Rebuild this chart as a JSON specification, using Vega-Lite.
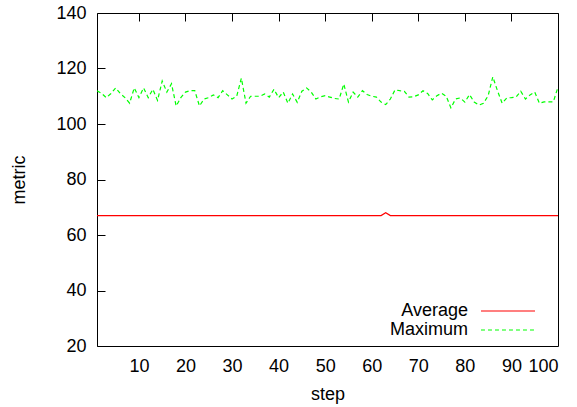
{
  "$schema": "https://vega.github.io/schema/vega-lite/v6.json",
  "width": 461,
  "height": 333,
  "autosize": {"type": "none"},
  "padding": {"left": 97, "top": 13, "right": 19, "bottom": 61},
  "background": "white",
  "config": {
    "view": {"stroke": "#000", "strokeWidth": 1},
    "font": "Liberation Sans",
    "axis": {
      "labelFont": "Liberation Sans",
      "titleFont": "Liberation Sans",
      "labelFontSize": 18,
      "titleFontSize": 18,
      "titleFontWeight": "normal",
      "labelColor": "#000",
      "titleColor": "#000",
      "ticks": false,
      "domain": false,
      "grid": true,
      "gridColor": "#000000",
      "gridOpacity": 1,
      "gridWidth": 1,
      "gridDash": [8, 2000]
    },
    "legend": {
      "labelFont": "Liberation Sans",
      "labelFontSize": 18,
      "labelColor": "#000"
    }
  },
  "datasets": {
    "series": [
      {"step": 1, "series": "Average", "value": 67}, {"step": 10, "series": "Average", "value": 67}, {"step": 20, "series": "Average", "value": 67}, {"step": 30, "series": "Average", "value": 67}, {"step": 40, "series": "Average", "value": 67}, {"step": 50, "series": "Average", "value": 67}, {"step": 60, "series": "Average", "value": 67}, {"step": 62, "series": "Average", "value": 67}, {"step": 63, "series": "Average", "value": 68}, {"step": 64, "series": "Average", "value": 67}, {"step": 70, "series": "Average", "value": 67}, {"step": 80, "series": "Average", "value": 67}, {"step": 90, "series": "Average", "value": 67}, {"step": 100, "series": "Average", "value": 67},
      {"step": 1, "series": "Maximum", "value": 112}, {"step": 2, "series": "Maximum", "value": 111}, {"step": 3, "series": "Maximum", "value": 109.5}, {"step": 4, "series": "Maximum", "value": 111}, {"step": 5, "series": "Maximum", "value": 113}, {"step": 6, "series": "Maximum", "value": 111}, {"step": 7, "series": "Maximum", "value": 109.5}, {"step": 8, "series": "Maximum", "value": 107.5}, {"step": 9, "series": "Maximum", "value": 113}, {"step": 10, "series": "Maximum", "value": 109.5},
      {"step": 11, "series": "Maximum", "value": 113}, {"step": 12, "series": "Maximum", "value": 109.5}, {"step": 13, "series": "Maximum", "value": 112.5}, {"step": 14, "series": "Maximum", "value": 108.5}, {"step": 15, "series": "Maximum", "value": 115.5}, {"step": 16, "series": "Maximum", "value": 111.5}, {"step": 17, "series": "Maximum", "value": 114.5}, {"step": 18, "series": "Maximum", "value": 106.5}, {"step": 19, "series": "Maximum", "value": 109.5}, {"step": 20, "series": "Maximum", "value": 111.5},
      {"step": 21, "series": "Maximum", "value": 112}, {"step": 22, "series": "Maximum", "value": 112}, {"step": 23, "series": "Maximum", "value": 106.5}, {"step": 24, "series": "Maximum", "value": 109}, {"step": 25, "series": "Maximum", "value": 109.5}, {"step": 26, "series": "Maximum", "value": 110.5}, {"step": 27, "series": "Maximum", "value": 109.5}, {"step": 28, "series": "Maximum", "value": 112}, {"step": 29, "series": "Maximum", "value": 110.5}, {"step": 30, "series": "Maximum", "value": 109},
      {"step": 31, "series": "Maximum", "value": 110}, {"step": 32, "series": "Maximum", "value": 116.5}, {"step": 33, "series": "Maximum", "value": 107.5}, {"step": 34, "series": "Maximum", "value": 110}, {"step": 35, "series": "Maximum", "value": 110}, {"step": 36, "series": "Maximum", "value": 110}, {"step": 37, "series": "Maximum", "value": 110.8}, {"step": 38, "series": "Maximum", "value": 109.7}, {"step": 39, "series": "Maximum", "value": 112.5}, {"step": 40, "series": "Maximum", "value": 109.5},
      {"step": 41, "series": "Maximum", "value": 111.5}, {"step": 42, "series": "Maximum", "value": 107.5}, {"step": 43, "series": "Maximum", "value": 110.8}, {"step": 44, "series": "Maximum", "value": 107.8}, {"step": 45, "series": "Maximum", "value": 111.8}, {"step": 46, "series": "Maximum", "value": 113}, {"step": 47, "series": "Maximum", "value": 111.5}, {"step": 48, "series": "Maximum", "value": 109}, {"step": 49, "series": "Maximum", "value": 109.8}, {"step": 50, "series": "Maximum", "value": 110.2},
      {"step": 51, "series": "Maximum", "value": 109.7}, {"step": 52, "series": "Maximum", "value": 109.2}, {"step": 53, "series": "Maximum", "value": 109}, {"step": 54, "series": "Maximum", "value": 114.4}, {"step": 55, "series": "Maximum", "value": 107.9}, {"step": 56, "series": "Maximum", "value": 111.5}, {"step": 57, "series": "Maximum", "value": 109.7}, {"step": 58, "series": "Maximum", "value": 112}, {"step": 59, "series": "Maximum", "value": 110.6}, {"step": 60, "series": "Maximum", "value": 110},
      {"step": 61, "series": "Maximum", "value": 109.7}, {"step": 62, "series": "Maximum", "value": 107.9}, {"step": 63, "series": "Maximum", "value": 107}, {"step": 64, "series": "Maximum", "value": 109}, {"step": 65, "series": "Maximum", "value": 112.3}, {"step": 66, "series": "Maximum", "value": 112}, {"step": 67, "series": "Maximum", "value": 111.8}, {"step": 68, "series": "Maximum", "value": 109.7}, {"step": 69, "series": "Maximum", "value": 109.8}, {"step": 70, "series": "Maximum", "value": 110.5},
      {"step": 71, "series": "Maximum", "value": 112}, {"step": 72, "series": "Maximum", "value": 111}, {"step": 73, "series": "Maximum", "value": 108.7}, {"step": 74, "series": "Maximum", "value": 110.2}, {"step": 75, "series": "Maximum", "value": 111.1}, {"step": 76, "series": "Maximum", "value": 110}, {"step": 77, "series": "Maximum", "value": 105.8}, {"step": 78, "series": "Maximum", "value": 109}, {"step": 79, "series": "Maximum", "value": 109.4}, {"step": 80, "series": "Maximum", "value": 107.9},
      {"step": 81, "series": "Maximum", "value": 110.6}, {"step": 82, "series": "Maximum", "value": 107.9}, {"step": 83, "series": "Maximum", "value": 106.8}, {"step": 84, "series": "Maximum", "value": 107.5}, {"step": 85, "series": "Maximum", "value": 110.2}, {"step": 86, "series": "Maximum", "value": 117}, {"step": 87, "series": "Maximum", "value": 112}, {"step": 88, "series": "Maximum", "value": 107.5}, {"step": 89, "series": "Maximum", "value": 109.4}, {"step": 90, "series": "Maximum", "value": 109.5},
      {"step": 91, "series": "Maximum", "value": 109.7}, {"step": 92, "series": "Maximum", "value": 111.8}, {"step": 93, "series": "Maximum", "value": 109}, {"step": 94, "series": "Maximum", "value": 110.5}, {"step": 95, "series": "Maximum", "value": 111.5}, {"step": 96, "series": "Maximum", "value": 107.5}, {"step": 97, "series": "Maximum", "value": 108}, {"step": 98, "series": "Maximum", "value": 108}, {"step": 99, "series": "Maximum", "value": 108}, {"step": 100, "series": "Maximum", "value": 113.3}
    ]
  },
  "layer": [
    {
      "data": {"name": "series"},
      "mark": {"type": "line", "strokeWidth": 1.2, "clip": true},
      "encoding": {
        "x": {
          "field": "step", "type": "quantitative",
          "scale": {"domain": [1, 100], "nice": false, "zero": false},
          "axis": {"orient": "bottom", "values": [10, 20, 30, 40, 50, 60, 70, 80, 90, 100], "title": "step", "labelPadding": 11, "titlePadding": 10}
        },
        "y": {
          "field": "value", "type": "quantitative",
          "scale": {"domain": [20, 140], "nice": false, "zero": false},
          "axis": {"orient": "left", "values": [20, 40, 60, 80, 100, 120, 140], "title": "metric", "labelPadding": 11, "titlePadding": 27}
        },
        "color": {
          "field": "series", "type": "nominal",
          "scale": {"domain": ["Average", "Maximum"], "range": ["#ff0000", "#00ff00"]},
          "legend": {"title": null, "orient": "none", "legendX": 402, "legendY": 289, "padding": 0, "symbolType": "M-5,0H5", "symbolSize": 117, "symbolStrokeWidth": 1.2, "labelAlign": "right", "labelOffset": -49, "rowPadding": 1, "labelLimit": 300}
        },
        "strokeDash": {
          "field": "series", "type": "nominal",
          "scale": {"domain": ["Average", "Maximum"], "range": [[1000, 0], [4, 3]]},
          "legend": {"title": null, "orient": "none", "legendX": 402, "legendY": 289, "padding": 0, "symbolType": "M-5,0H5", "symbolSize": 117, "symbolStrokeWidth": 1.2, "labelAlign": "right", "labelOffset": -49, "rowPadding": 1, "labelLimit": 300}
        }
      }
    },
    {
      "data": {"name": "series"},
      "mark": {"type": "point", "opacity": 0},
      "encoding": {
        "x": {
          "field": "step", "type": "quantitative",
          "axis": {"orient": "top", "values": [10, 20, 30, 40, 50, 60, 70, 80, 90, 100], "labels": false, "title": null}
        },
        "y": {
          "field": "value", "type": "quantitative",
          "axis": {"orient": "right", "values": [20, 40, 60, 80, 100, 120, 140], "labels": false, "title": null}
        }
      }
    }
  ],
  "resolve": {"axis": {"x": "independent", "y": "independent"}}
}
